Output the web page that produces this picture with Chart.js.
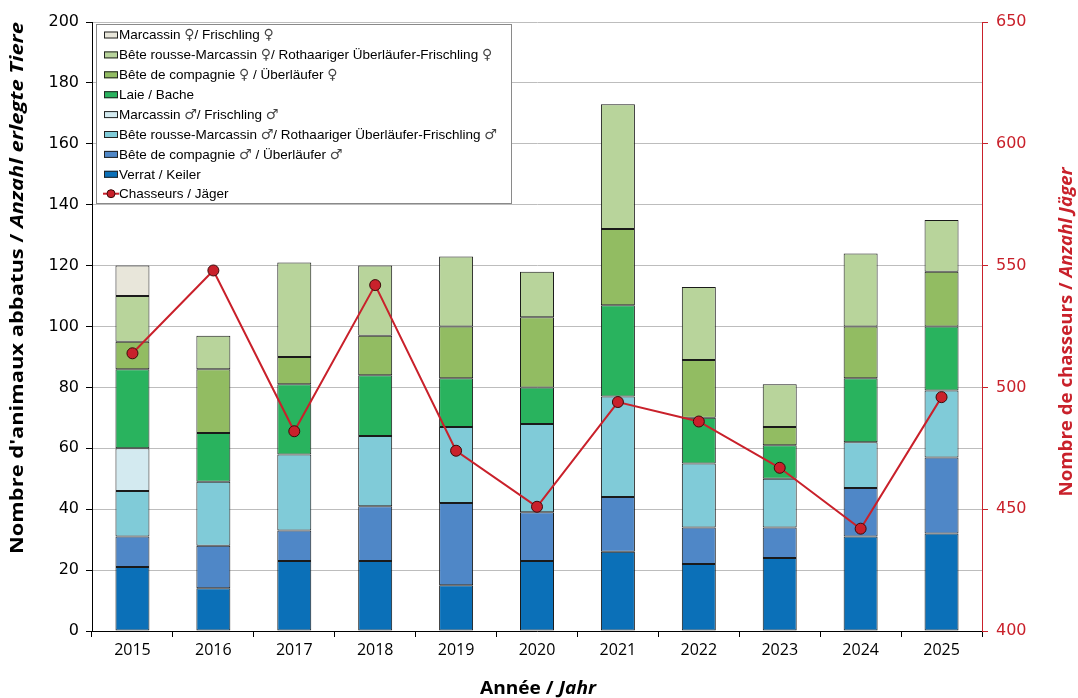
<!DOCTYPE html>
<html>
<head>
<meta charset="utf-8">
<script src="https://cdn.jsdelivr.net/npm/chart.js@4/dist/chart.umd.min.js"></script>
<style>
  html, body { margin: 0; padding: 0; background: #fff; }
  #wrap { width: 1078px; height: 698px; }
</style>
</head>
<body>
<div id="wrap"><canvas id="chart" width="1078" height="698"></canvas></div>
<script>
// --- data ---
const years = ['2015','2016','2017','2018','2019','2020','2021','2022','2023','2024','2025'];
const verrat      = [21, 14, 23, 23, 15, 23, 26, 22, 24, 31, 32];
const compagnieM  = [10, 14, 10, 18, 27, 16, 18, 12, 10, 16, 25];
const rousseM     = [15, 21, 25, 23, 25, 29, 33, 21, 16, 15, 22];
const marcassinM  = [14,  0,  0,  0,  0,  0,  0,  0,  0,  0,  0];
const laie        = [26, 16, 23, 20, 16, 12, 30, 15, 11, 21, 21];
const compagnieF  = [ 9, 21,  9, 13, 17, 23, 25, 19,  6, 17, 18];
const rousseF     = [15, 11, 31, 23, 23, 15, 41, 24, 14, 24, 17];
const marcassinF  = [10,  0,  0,  0,  0,  0,  0,  0,  0,  0,  0];
const chasseurs   = [514, 548, 482, 542, 474, 451, 494, 486, 467, 442, 496];
const leftTicks = [0, 200, 20];
const rightTicks = [400, 650, 50];

const RED = '#c9212b';
const barSeries = [
  { label: 'Verrat / Keiler', data: verrat, color: '#0b70b8' },
  { label: 'Bête de compagnie ♂ / Überläufer ♂', data: compagnieM, color: '#4f87c7' },
  { label: 'Bête rousse-Marcassin ♂/ Rothaariger Überläufer-Frischling ♂', data: rousseM, color: '#80cbd8' },
  { label: 'Marcassin ♂/ Frischling ♂', data: marcassinM, color: '#d3eaf0' },
  { label: 'Laie / Bache', data: laie, color: '#29b35e' },
  { label: 'Bête de compagnie ♀ / Überläufer ♀', data: compagnieF, color: '#92bc62' },
  { label: 'Bête rousse-Marcassin ♀/ Rothaariger Überläufer-Frischling ♀', data: rousseF, color: '#b8d49b' },
  { label: 'Marcassin ♀/ Frischling ♀', data: marcassinF, color: '#e8e6da' },
];

const datasets = barSeries.map(s => ({
  type: 'bar',
  label: s.label,
  data: s.data.map(v => v === 0 ? null : v),
  backgroundColor: s.color,
  borderColor: '#1a1a1a',
  borderWidth: 1,
  borderSkipped: false,
  yAxisID: 'y',
  order: 2,
  barPercentage: 0.42,
  categoryPercentage: 1,
}));
datasets.push({
  type: 'line',
  label: 'Chasseurs / Jäger',
  data: chasseurs,
  yAxisID: 'y1',
  borderColor: RED,
  borderWidth: 2,
  pointRadius: 5.5,
  pointBackgroundColor: RED,
  pointBorderColor: '#3b0b0b',
  pointBorderWidth: 1,
  order: 1,
  tension: 0,
});

// axis titles with a bold + bold italic part
function drawTitle(ctx, x, y, angle, parts, color, target) {
  ctx.save();
  ctx.translate(x, y);
  ctx.rotate(angle);
  ctx.fillStyle = color;
  ctx.textBaseline = 'middle';
  let total = 0;
  parts.forEach(p => { ctx.font = p.font; total += ctx.measureText(p.text).width; });
  const k = target ? target / total : 1;
  ctx.scale(k, 1);
  let cx = -total / 2;
  parts.forEach(p => {
    ctx.font = p.font;
    ctx.textAlign = 'left';
    ctx.fillText(p.text, cx, 0);
    cx += ctx.measureText(p.text).width;
  });
  ctx.restore();
}

const TF = '"Open Sans", "DejaVu Sans", sans-serif';
const titlePlugin = {
  id: 'titles',
  afterDraw(chart) {
    const ctx = chart.ctx;
    drawTitle(ctx, 18, 288, -Math.PI / 2, [
      { text: "Nombre d'animaux abbatus / ", font: 'bold 18px ' + TF },
      { text: 'Anzahl erlegte Tiere', font: 'italic bold 18px ' + TF },
    ], '#000', 532);
    drawTitle(ctx, 1067, 332, -Math.PI / 2, [
      { text: 'Nombre de chasseurs / ', font: 'bold 18px ' + TF },
      { text: 'Anzahl Jäger', font: 'italic bold 18px ' + TF },
    ], RED, 329);
    drawTitle(ctx, 538, 689, 0, [
      { text: 'Année / ', font: 'bold 18px ' + TF },
      { text: 'Jahr', font: 'italic bold 18px ' + TF },
    ], '#000', 116);
  }
};

// legend text: gender signs drawn with a font that has them at full size
const LF = '13.5px "Liberation Sans", Arial, sans-serif';
const SF = '14px "DejaVu Sans", sans-serif';
function legendText(ctx, text, x, y) {
  let cx = x;
  text.split(/([♀♂])/).forEach(part => {
    if (!part) return;
    const sym = part === '♀' || part === '♂';
    ctx.font = sym ? SF : LF;
    ctx.fillStyle = sym ? '#444' : '#000';
    ctx.fillText(part, cx, y);
    cx += ctx.measureText(part).width;
  });
}

// legend box inside the plot, top left
const legendPlugin = {
  id: 'boxLegend',
  afterDraw(chart) {
    const ctx = chart.ctx;
    const x0 = 96, y0 = 24, w = 415, h = 179, step = 19.9;
    ctx.save();
    ctx.fillStyle = '#fff';
    ctx.fillRect(x0, y0, w, h);
    ctx.strokeStyle = '#8a8a8a';
    ctx.lineWidth = 1;
    ctx.strokeRect(x0 + 0.5, y0 + 0.5, w, h);
    ctx.textBaseline = 'middle';
    const items = barSeries.slice().reverse();
    items.forEach((s, i) => {
      const cy = y0 + 10.5 + i * step;
      ctx.fillStyle = s.color;
      ctx.fillRect(104, cy - 3, 14, 7);
      ctx.strokeStyle = '#222';
      ctx.strokeRect(104.5, cy - 2.5, 13, 6);
      legendText(ctx, s.label, 119, cy + 1);
    });
    const cy = y0 + 10.5 + items.length * step;
    ctx.strokeStyle = RED;
    ctx.lineWidth = 2;
    ctx.beginPath(); ctx.moveTo(103, cy); ctx.lineTo(119, cy); ctx.stroke();
    ctx.beginPath(); ctx.arc(111, cy, 4, 0, Math.PI * 2);
    ctx.fillStyle = RED; ctx.fill();
    ctx.lineWidth = 1; ctx.strokeStyle = '#3b0b0b'; ctx.stroke();
    legendText(ctx, 'Chasseurs / Jäger', 119, cy + 1);
    ctx.restore();
  }
};

const tickFont = { family: '"DejaVu Sans", Verdana, sans-serif', size: 16 };

new Chart(document.getElementById('chart').getContext('2d'), {
  data: { labels: years, datasets },
  options: {
    responsive: false,
    animation: false,
    layout: { padding: { top: 22, left: 0, right: 0, bottom: 0 } },
    plugins: { legend: { display: false }, tooltip: { enabled: false } },
    scales: {
      x: {
        stacked: true,
        offset: true,
        grid: { offset: true, drawOnChartArea: false, color: '#000', tickLength: 6 },
        border: { color: '#000', width: 1 },
        ticks: { color: '#000', font: { family: '"Open Sans", sans-serif', size: 16 }, padding: 4 },
        afterFit(s) { s.height = 67; },
      },
      y: {
        stacked: true,
        min: leftTicks[0], max: leftTicks[1],
        ticks: { stepSize: leftTicks[2], color: '#000', font: tickFont, padding: 7 },
        grid: { color: '#bdbdbd', tickColor: '#000', tickLength: 6 },
        border: { color: '#000', width: 1 },
        afterFit(s) { s.width = 92; },
      },
      y1: {
        position: 'right',
        min: rightTicks[0], max: rightTicks[1],
        ticks: { stepSize: rightTicks[2], color: RED, font: tickFont, padding: 8 },
        grid: { drawOnChartArea: false, color: RED, tickLength: 6 },
        border: { color: RED, width: 1 },
        afterFit(s) { s.width = 96; },
      },
    },
  },
  plugins: [titlePlugin, legendPlugin],
});
</script>
</body>
</html>
